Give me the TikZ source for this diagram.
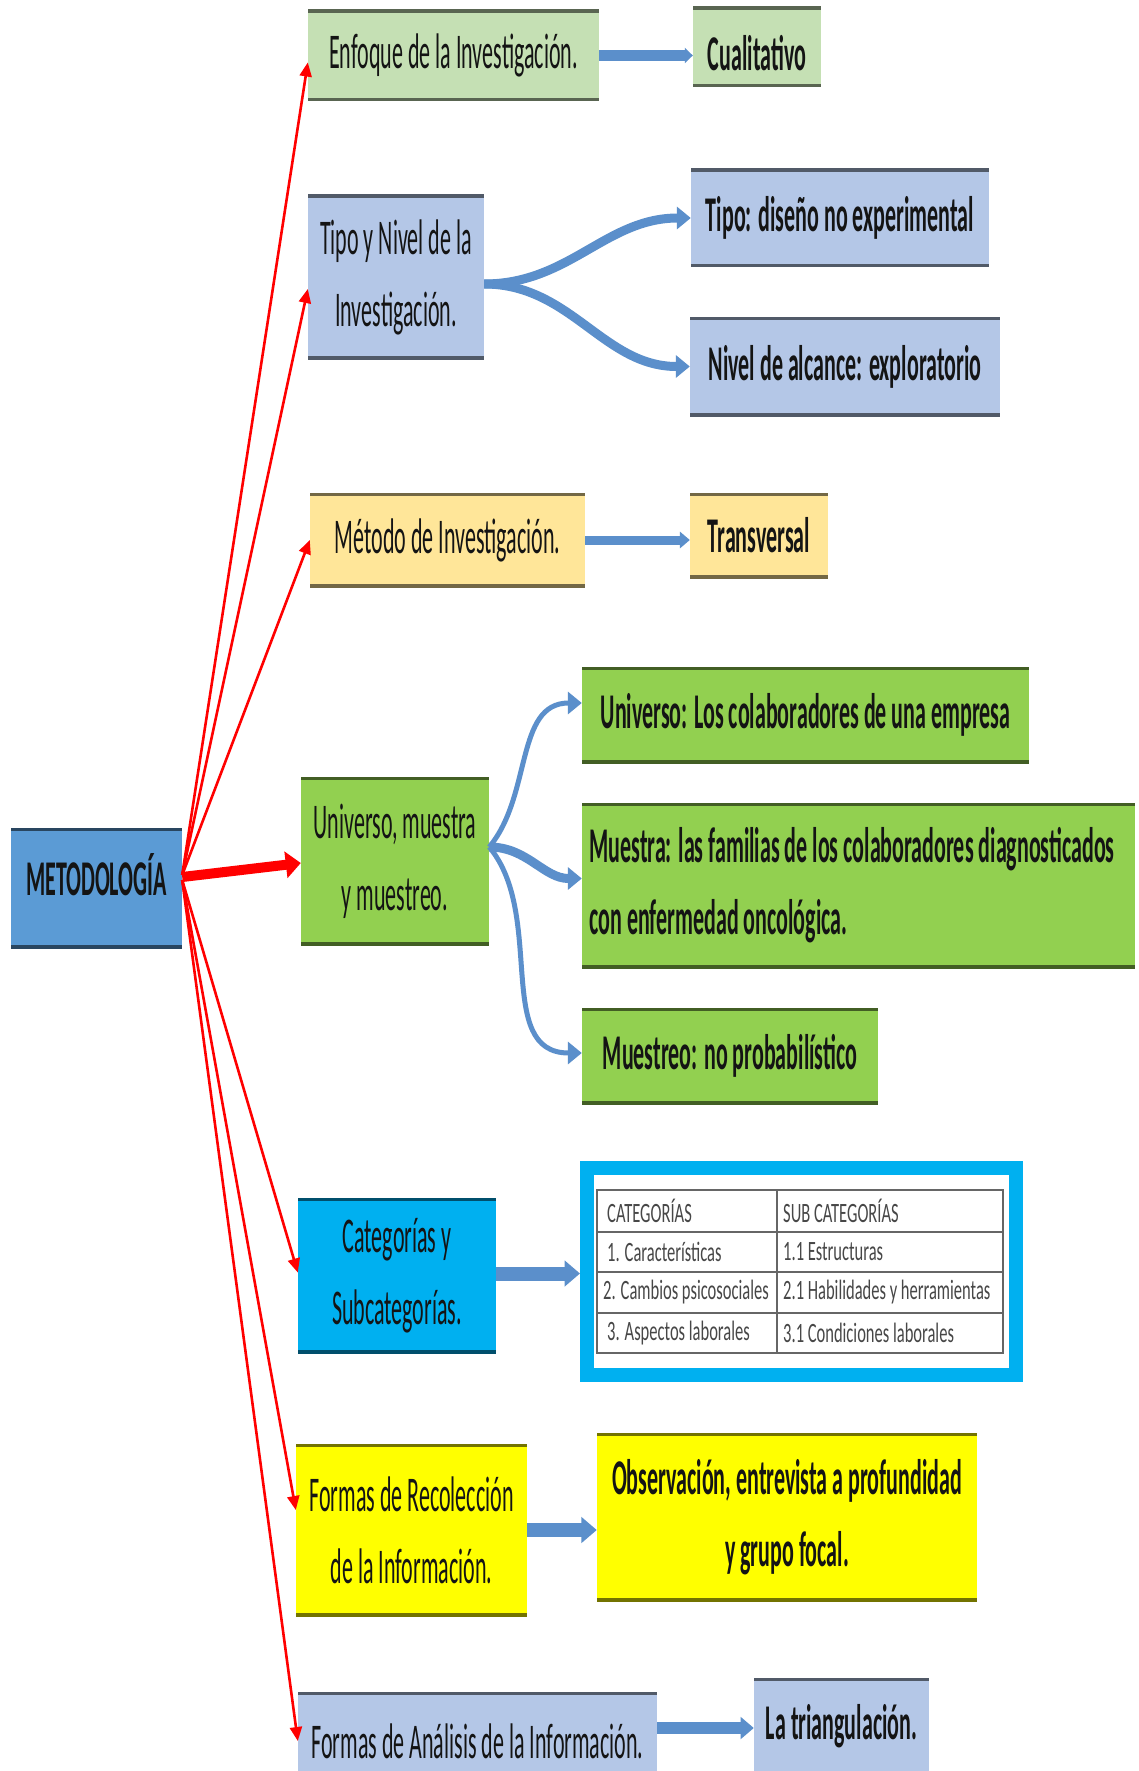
\documentclass[tikz,border=0pt]{standalone}
\usepackage{fontspec}
\setmainfont{Carlito}[FakeStretch=0.44]
\newfontfamily\tabfont{Carlito}[FakeStretch=0.59]
\usetikzlibrary{arrows.meta,calc}
\definecolor{cMeto}{HTML}{5B9BD5}
\definecolor{cPaleGreen}{HTML}{C5E0B4}
\definecolor{cPaleBlue}{HTML}{B4C7E7}
\definecolor{cPaleOrange}{HTML}{FFE699}
\definecolor{cGreen}{HTML}{92D050}
\definecolor{cCyan}{HTML}{00B0F0}
\definecolor{cYellow}{HTML}{FFFF00}
\definecolor{cArrow}{HTML}{5B8FCB}
\begin{document}
\begin{tikzpicture}[x=1pt,y=-1pt,
  box/.style={fill=#1, draw=none, inner sep=0pt, align=center, text=black!92,
    path picture={\draw[line width=6pt, #1!45!black]
      (path picture bounding box.north west) -- (path picture bounding box.north east)
      (path picture bounding box.south west) -- (path picture bounding box.south east);}},
  reg/.style={font=\fontsize{50}{72}\selectfont},
  bld/.style={font=\fontsize{50}{72}\selectfont\bfseries},
  redarr/.style={draw=red, line width=2.6pt, -{Triangle[width=12pt,length=14pt]}},
  redthick/.style={draw=red, line width=10pt, -{Triangle[width=26pt,length=15pt]}},
  bar/.style={draw=cArrow, line width=#1, -{Triangle[width=0pt 1.8,length=0pt 1.1]}},
  curv/.style={draw=cArrow, line width=#1, -{Triangle[width=22pt,length=14pt]}},
  tline/.style={draw=black!60, line width=2.5pt},
  tcell/.style={anchor=west, inner sep=0pt, text=black!72, font=\tabfont\fontsize{28}{30}\selectfont}
]
\useasboundingbox (0,0) rectangle (1139,1771);
\fill[white] (0,0) rectangle (1139,1771);

% left column
\node[box=cMeto, bld, text depth=28pt, minimum width=171pt, minimum height=120pt] (meto) at (96.5,888) {METODOLOGÍA};
\node[box=cPaleGreen, reg, minimum width=291pt, minimum height=91pt] (enf) at (453.5,55.5) {Enfoque de la Investigación.};
\node[box=cPaleBlue, reg, minimum width=176pt, minimum height=164pt] (tipo) at (396,277) {Tipo y Nivel de la\\Investigación.};
\node[box=cPaleOrange, reg, minimum width=275pt, minimum height=94pt] (met) at (447.5,540) {Método de Investigación.};
\node[box=cGreen, reg, minimum width=188pt, minimum height=168pt] (um) at (395,861) {Universo, muestra\\y muestreo.};
\node[box=cCyan, reg, minimum width=198pt, minimum height=155pt] (cat) at (397,1275.5) {Categorías y\\Subcategorías.};
\node[box=cYellow, reg, minimum width=231pt, minimum height=172pt] (fr) at (411.5,1530) {Formas de Recolección\\de la Información.};
\node[box=cPaleBlue, reg, minimum width=359pt, minimum height=98pt] (fa) at (477.5,1741) {Formas de Análisis de la Información.};

% right column
\node[box=cPaleGreen, bld, text height=47pt, minimum width=128pt, minimum height=80pt] (cual) at (757,47) {Cualitativo};
\node[box=cPaleBlue, bld, minimum width=298pt, minimum height=98pt] (dis) at (840,218) {Tipo: diseño no experimental};
\node[box=cPaleBlue, bld, minimum width=310pt, minimum height=99pt] (niv) at (845,366.5) {Nivel de alcance: exploratorio};
\node[box=cPaleOrange, bld, minimum width=138pt, minimum height=85pt] (trans) at (759,535.5) {Transversal};
\node[box=cGreen, bld, minimum width=447pt, minimum height=96pt] (uni) at (805.5,715) {Universo: Los colaboradores de una empresa};
\node[box=cGreen, bld, align=left, minimum width=553pt, minimum height=165pt] (mue) at (858.5,885.5) {Muestra: las familias de los colaboradores diagnosticados\hspace*{13pt}\\con enfermedad oncológica.};
\node[box=cGreen, bld, minimum width=296pt, minimum height=96pt] (mueo) at (730,1056) {Muestreo: no probabilístico};
\node[draw=cCyan, fill=white, line width=14pt, minimum width=429pt, minimum height=207pt, inner sep=0pt] (tab) at (801.5,1271.5) {};
\node[box=cYellow, bld, minimum width=380pt, minimum height=168pt] (obs) at (787,1517) {Observación, entrevista a profundidad\\y grupo focal.};
\node[box=cPaleBlue, bld, minimum width=175pt, minimum height=97pt] (lt) at (841.5,1726.5) {La triangulación.};

% table
\draw[tline] (597,1190) rectangle (1003,1353);
\draw[tline] (777,1190) -- (777,1353);
\foreach \yy in {1232,1272,1313} \draw[tline] (597,\yy) -- (1003,\yy);
\node[tcell] (t11) at (607,1211) {CATEGORÍAS};
\node[tcell] (t12) at (783,1211) {SUB CATEGORÍAS};
\node[tcell] (t21) at (607,1252) {1. Características};
\node[tcell] (t22) at (783,1252) {1.1 Estructuras};
\node[tcell] (t31) at (603,1292.5) {2. Cambios psicosociales};
\node[tcell] (t32) at (783,1292.5) {2.1 Habilidades y herramientas};
\node[tcell] (t41) at (607,1333) {3. Aspectos laborales};
\node[tcell] (t42) at (783,1333) {3.1 Condiciones laborales};

% red connectors
\draw[redarr] ([yshift=13pt]meto.east) -- ([yshift=-7pt]enf.west);
\draw[redarr] ([yshift=13pt]meto.east) -- ([yshift=-12pt]tipo.west);
\draw[redarr] ([yshift=13pt]meto.east) -- (met.west);
\draw[redthick] ([yshift=11pt]meto.east) -- ([yshift=-2pt]um.west);
\draw[redarr] ([yshift=8pt]meto.east) -- ([yshift=3pt]cat.west);
\draw[redarr] ([yshift=8pt]meto.east) -- ([yshift=20pt]fr.west);
\draw[redarr] ([yshift=8pt]meto.east) -- (fa.west);

% blue connectors
\draw[draw=cArrow, line width=11pt, -{Triangle[width=15pt,length=8pt]}] (enf.east) -- (enf.east -| cual.west);
\draw[bar=9pt] (met.east) -- (met.east -| trans.west);
\draw[bar=14pt] ([yshift=2pt]cat.east) -- ([yshift=2pt]cat.east -| tab.west);
\draw[bar=14pt] (fr.east) -- (fr.east -| obs.west);
\draw[bar=12pt] ([yshift=13pt]fa.east) -- ([yshift=13pt]fa.east -| lt.west);
\draw[curv=9pt] ([yshift=-7pt]tipo.east) to[out=0,in=180] (dis.west);
\draw[curv=9pt] ([yshift=-7pt]tipo.east) to[out=0,in=180] (niv.west);
\draw[curv=5pt] ([yshift=14pt]um.east) to[out=50,in=180] ([yshift=12pt]uni.west);
\draw[curv=9pt] ([yshift=14pt]um.east) to[out=0,in=180] ([yshift=7pt]mue.west);
\draw[curv=5pt] ([yshift=14pt]um.east) to[out=-50,in=180] ([yshift=3pt]mueo.west);
\end{tikzpicture}
\end{document}
